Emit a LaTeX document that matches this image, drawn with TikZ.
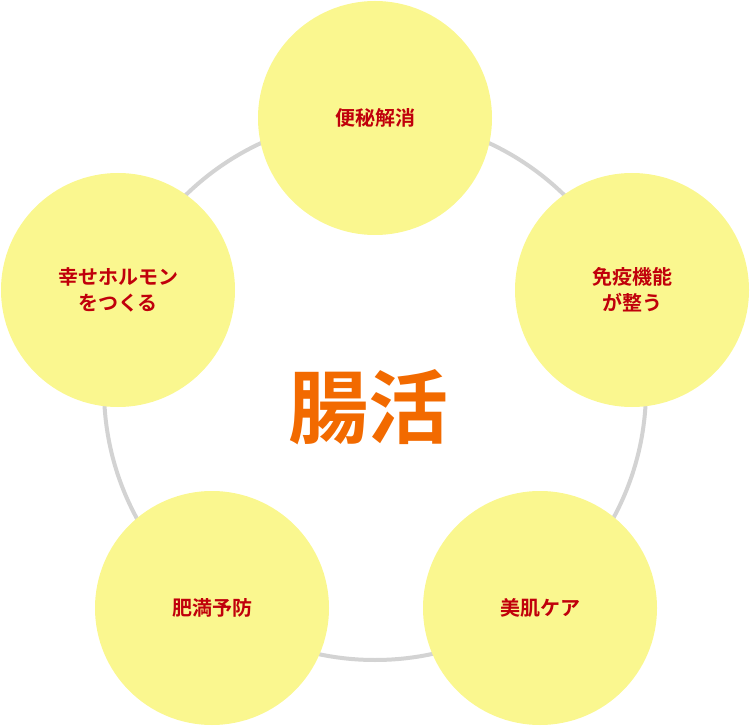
\documentclass[tikz,border=0pt]{standalone}
\usepackage{fontspec}
\newfontfamily\jpfont{Noto Sans CJK JP Bold}
\usetikzlibrary{positioning}
\definecolor{ringgray}{HTML}{D3D3D3}
\definecolor{bubble}{HTML}{FAF78F}
\definecolor{labelred}{HTML}{C0000B}
\definecolor{centerorange}{HTML}{F26A00}
\tikzset{
  bubblenode/.style={circle,fill=bubble,minimum size=234pt,inner sep=0pt,
    font=\jpfont\fontsize{20}{26}\selectfont,text=labelred,align=center}
}
\begin{document}
\begin{tikzpicture}[x=1pt,y=1pt]
\useasboundingbox (0,0) rectangle (750,-727);
% ring
\draw[ringgray,line width=4pt] (375,-389) circle (271);
% center
\node[font=\jpfont\fontsize{80}{80}\selectfont,text=centerorange] (center) at (368,-407) {腸活};
% bubbles
\node[bubblenode] (benpi) at (375,-118) {便秘解消};
\node[bubblenode] (meneki) at (632,-290) {免疫機能\\が整う};
\node[bubblenode] (biki) at (540,-608) {美肌ケア};
\node[bubblenode] (himan) at (212,-608) {肥満予防};
\node[bubblenode] (hormone) at (118,-290) {幸せホルモン\\をつくる};
\end{tikzpicture}
\end{document}
